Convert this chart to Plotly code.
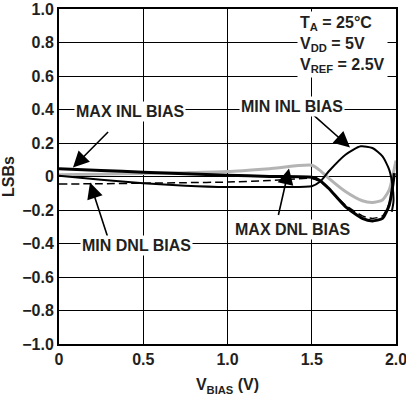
import plotly.graph_objects as go

# Data
x_max_inl = [0, 0.25, 0.5, 0.75, 1.0, 1.25, 1.5, 1.55, 1.6, 1.7, 1.8, 1.86, 1.92, 1.96, 1.98, 1.99]
y_max_inl = [0.047, 0.036, 0.026, 0.017, 0.008, 0.0, -0.005, -0.025, -0.07, -0.18, -0.25, -0.265, -0.25, -0.17, -0.06, 0.02]

x_min_inl = [0, 0.25, 0.5, 0.75, 1.0, 1.25, 1.5, 1.55, 1.6, 1.7, 1.79, 1.86, 1.92, 1.96, 1.98, 1.985, 1.975]
y_min_inl = [0.005, -0.02, -0.04, -0.055, -0.063, -0.062, -0.058, -0.03, 0.03, 0.13, 0.18, 0.17, 0.12, 0.04, -0.06, -0.15, -0.21]

x_max_dnl = [0, 0.25, 0.5, 0.75, 1.0, 1.25, 1.5, 1.55, 1.6, 1.7, 1.8, 1.86, 1.92, 1.96, 1.98, 2.0]
y_max_dnl = [0.01, 0.014, 0.018, 0.023, 0.03, 0.047, 0.067, 0.035, -0.01, -0.09, -0.145, -0.155, -0.14, -0.08, 0.0, 0.095]

x_min_dnl = [0, 0.25, 0.5, 0.75, 1.0, 1.25, 1.5, 1.55, 1.6, 1.7, 1.8, 1.86, 1.92, 1.96, 1.98]
y_min_dnl = [-0.045, -0.043, -0.04, -0.037, -0.033, -0.024, -0.012, -0.03, -0.075, -0.17, -0.235, -0.25, -0.235, -0.16, -0.05]

x_ticks = [0, 0.5, 1.0, 1.5, 2.0]
x_ticklabels = ["0", "0.5", "1.0", "1.5", "2.0"]
y_ticks = [1.0, 0.8, 0.6, 0.4, 0.2, 0, -0.2, -0.4, -0.6, -0.8, -1.0]
y_ticklabels = ["1.0", "0.8", "0.6", "0.4", "0.2", "0", "\u22120.2", "\u22120.4", "\u22120.6", "\u22120.8", "\u22121.0"]

FONT = "Liberation Sans"

fig = go.Figure()
fig.add_trace(go.Scatter(x=x_max_dnl, y=y_max_dnl, mode="lines", line=dict(color="#b4b4b4", width=3, shape="spline", smoothing=0.6), name="MAX DNL BIAS"))
fig.add_trace(go.Scatter(x=x_min_dnl, y=y_min_dnl, mode="lines", line=dict(color="black", width=1.5, dash="8px,4px", shape="spline", smoothing=0.6), name="MIN DNL BIAS"))
fig.add_trace(go.Scatter(x=x_min_inl, y=y_min_inl, mode="lines", line=dict(color="black", width=2, shape="spline", smoothing=0.6), name="MIN INL BIAS"))
fig.add_trace(go.Scatter(x=x_max_inl, y=y_max_inl, mode="lines", line=dict(color="black", width=3, shape="spline", smoothing=0.6), name="MAX INL BIAS"))

tfont = dict(family=FONT, size=16, color="#231f20", weight="bold")

labels = [
    ("MAX INL BIAS", 0.42, 0.39, 0.083, 0.054, 0.30, 0.275),
    ("MIN INL BIAS", 1.383, 0.418, 1.727, 0.173, 1.50, 0.376),
    ("MIN DNL BIAS", 0.457, -0.41, 0.184, -0.036, 0.29, -0.364),
    ("MAX DNL BIAS", 1.389, -0.316, 1.365, 0.048, 1.30, -0.239),
]
for text, lx, ly, tx, ty, ax, ay in labels:
    fig.add_annotation(x=tx, y=ty, ax=ax, ay=ay, xref="x", yref="y", axref="x", ayref="y",
                       text="", showarrow=True, arrowhead=2, arrowsize=2, arrowwidth=1.6, arrowcolor="black")
    fig.add_annotation(x=lx, y=ly, xref="x", yref="y", text=text, showarrow=False,
                       font=tfont, bgcolor="white", borderpad=1)

fig.add_annotation(x=1.415, y=0.79, xref="x", yref="y", xanchor="left", yanchor="middle", align="left",
                   text="T<sub>A</sub> = 25°C<br>V<sub>DD</sub> = 5V<br>V<sub>REF</sub> = 2.5V",
                   showarrow=False, font=tfont, bgcolor="white", borderpad=2)

axis_common = dict(showline=True, linecolor="black", linewidth=2, mirror=True,
                   showgrid=True, gridcolor="black", gridwidth=1, zeroline=False,
                   ticks="", tickfont=tfont, automargin=False, ticklabeloverflow="allow")

fig.update_xaxes(range=[0, 2.0], tickvals=x_ticks, ticktext=x_ticklabels,
                 title=dict(text="V<sub>BIAS</sub> (V)", font=tfont, standoff=12), **axis_common)
fig.update_yaxes(range=[-1.0, 1.0], tickvals=y_ticks, ticktext=y_ticklabels,
                 title=dict(text="LSBs", font=tfont, standoff=4), **axis_common)

fig.update_layout(width=406, height=404, margin=dict(l=59, r=10, t=9, b=60),
                  paper_bgcolor="white", plot_bgcolor="white", showlegend=False)

fig.write_html("out.html", config={"displayModeBar": False},
               post_script="document.body.style.margin='0';")
